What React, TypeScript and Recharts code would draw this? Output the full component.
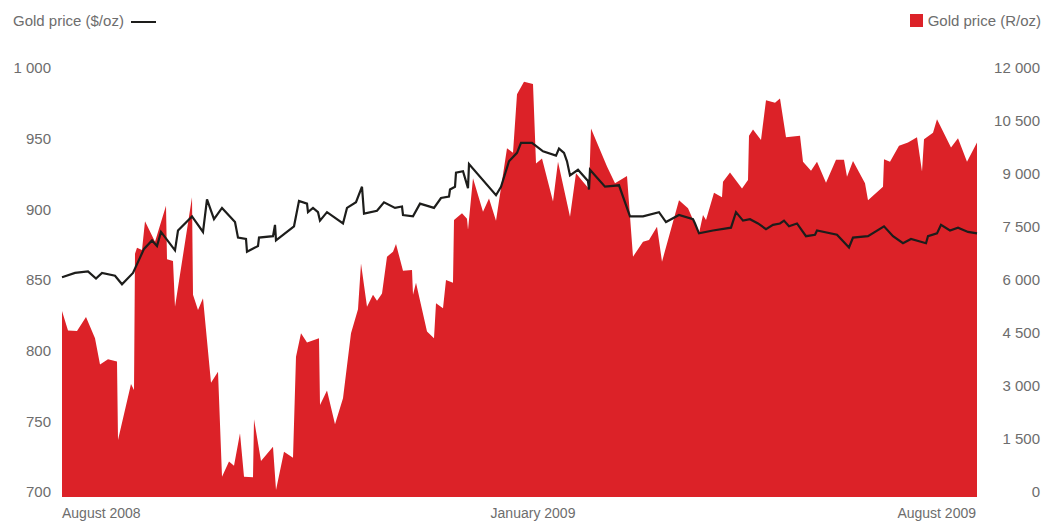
import React from "react";
import { ComposedChart, Area, Line, XAxis, YAxis } from "recharts";

// x positions are a time index across the period (0 = start of August 2008)
const zarT = [
  0, 6, 15, 24, 33, 38, 46, 55, 56, 69, 72, 73, 75, 80, 83, 93, 104, 105, 111, 113,
  130, 131, 136, 141, 149, 156, 160, 167, 172, 178, 182, 191, 192, 199, 211, 214, 222,
  231, 234, 239, 245, 257, 258, 265, 273, 281, 289, 296, 299, 305, 311, 315, 318, 320,
  325, 331, 334, 341, 350, 351, 354, 365, 372, 374, 381, 384, 391, 392, 400, 405, 406,
  411, 421, 427, 434, 445, 451, 455, 462, 471, 474, 480, 491, 496, 508, 514, 521, 527,
  529, 545, 553, 565, 571, 581, 587, 595, 600, 617, 626, 637, 641, 644, 652, 660, 661,
  668, 680, 686, 687, 691, 699, 704, 713, 718, 724, 738, 741, 749, 755, 764, 774, 782,
  785, 791, 803, 806, 821, 822, 828, 837, 846, 855, 860, 862, 871, 875, 889, 896, 905,
  915,
];
const zarPrice = [
  5120, 4570, 4560, 4950, 4350, 3610, 3760, 3690, 1470, 3060, 2890, 6740, 6910, 6850,
  7660, 7080, 8100, 6590, 6540, 5240, 8340, 5580, 5150, 5480, 3090, 3400, 430, 860, 740,
  1660, 430, 420, 2060, 880, 1280, 60, 1140, 970, 3830, 4490, 4230, 4350, 2460, 2870,
  1920, 2650, 4490, 5170, 6470, 5240, 5580, 5410, 5530, 5620, 6660, 6800, 7020, 6260,
  6280, 5580, 5920, 4540, 4350, 5340, 5200, 6000, 5920, 7700, 7890, 7730, 7420, 8880,
  7930, 8310, 7680, 9730, 9600, 11260, 11610, 11550, 9300, 9440, 8220, 9350, 7790,
  9020, 8780, 8580, 10290, 9210, 8740, 8940, 6660, 7080, 7130, 7510, 6520, 8260, 8030,
  7320, 7840, 7700, 8470, 8340, 8780, 9040, 8590, 8830, 10080, 10260, 9960, 11090,
  11020, 11140, 10040, 10080, 9350, 9090, 9350, 8750, 9400, 9400, 8920, 9370, 8740,
  8260, 8640, 9420, 9350, 9800, 9890, 10040, 9070, 9980, 10170, 10550, 9750, 10010,
  9350, 9890,
];

const usdT = [
  0, 13, 26, 34, 40, 53, 60, 71, 82, 90, 95, 99, 113, 116, 130, 141, 145, 152, 160,
  173, 176, 184, 185, 196, 197, 211, 213, 214, 232, 237, 245, 246, 251, 256, 258, 265,
  281, 285, 294, 300, 302, 315, 322, 333, 340, 341, 351, 358, 372, 379, 387, 388, 393,
  394, 401, 406, 407, 434, 439, 447, 455, 459, 470, 481, 494, 497, 502, 505, 508, 516,
  526, 527, 528, 543, 557, 568, 581, 597, 604, 617, 631, 633, 637, 651, 669, 674, 681,
  688, 696, 704, 711, 718, 722, 727, 735, 744, 753, 755, 775, 787, 791, 806, 822, 831,
  841, 849, 864, 866, 875, 879, 888, 896, 906, 915,
];
const usdPrice = [
  852, 855, 856, 851, 855, 853, 847, 855, 872, 878, 874, 884, 871, 885, 895, 884, 907,
  893, 901, 891, 880, 879, 870, 874, 880, 881, 889, 878, 888, 906, 904, 898, 901, 898,
  892, 898, 890, 901, 905, 916, 897, 899, 905, 901, 902, 896, 895, 904, 901, 908, 909,
  914, 916, 926, 927, 915, 932, 910, 916, 934, 940, 947, 947, 941, 938, 943, 940, 934,
  924, 928, 920, 914, 928, 916, 917, 895, 895, 898, 891, 896, 893, 890, 883, 885, 887,
  898, 892, 893, 890, 886, 889, 890, 892, 888, 890, 881, 882, 885, 882, 873, 880, 881,
  888, 881, 876, 879, 876, 881, 883, 889, 885, 887, 884, 883,
];

const xTicks = [0, 471, 914];
const xTickLabels = ["August 2008", "January 2009", "August 2009"];
const usdTicks = [700, 750, 800, 850, 900, 950, 1000];
const zarTicks = [0, 1500, 3000, 4500, 6000, 7500, 9000, 10500, 12000];

const RED = "#dc2228";
const LINE = "#1d1d1b";
const GREY = "#6d6d6d";
const FONT = "'Liberation Sans', Arial, sans-serif";

type Row = { t: number; zar?: number; usd?: number };
const rows: Row[] = [
  ...zarT.map((t, i) => ({ t, zar: zarPrice[i] })),
  ...usdT.map((t, i) => ({ t, usd: usdPrice[i] })),
].sort((a, b) => a.t - b.t);

const fmt = (v: number) => String(v).replace(/\B(?=(\d{3})+(?!\d))/g, " ");

const XTick = (props: any) => {
  const { x, y, payload } = props;
  const i = xTicks.indexOf(payload.value);
  const anchor = i === 0 ? "start" : i === xTicks.length - 1 ? "end" : "middle";
  return (
    <text x={x} y={y + 21} textAnchor={anchor} fill={GREY} fontSize={14} fontFamily={FONT}>
      {xTickLabels[i]}
    </text>
  );
};

const RightTick = (props: any) => {
  const { x, y, payload } = props;
  return (
    <text x={x + 63} y={y} dy="0.355em" textAnchor="end" fill={GREY} fontSize={15} fontFamily={FONT}>
      {fmt(payload.value)}
    </text>
  );
};

export default function App() {
  return (
    <div style={{ position: "absolute", left: 0, top: 0, width: 1043, height: 521, background: "#fff" }}>
      <div style={{ position: "absolute", left: 13, top: 12, lineHeight: "18px", whiteSpace: "nowrap", fontFamily: FONT, fontSize: 15, color: GREY }}>
        Gold price ($/oz)
        <span style={{ display: "inline-block", width: 25, height: 2, background: LINE, marginLeft: 7, verticalAlign: "middle" }} />
      </div>
      <div style={{ position: "absolute", right: 2, top: 12, lineHeight: "18px", whiteSpace: "nowrap", fontFamily: FONT, fontSize: 15, color: GREY }}>
        <span style={{ display: "inline-block", width: 13, height: 13, background: RED, marginRight: 5, verticalAlign: "-1px" }} />
        Gold price (R/oz)
      </div>
      <ComposedChart width={1043} height={521} data={rows} margin={{ top: 68, right: 0, bottom: 0, left: 0 }}>
        <XAxis
          dataKey="t"
          type="number"
          domain={[0, 915]}
          ticks={xTicks}
          height={24}
          axisLine={false}
          tickLine={false}
          tickSize={0}
          tickMargin={0}
          tick={<XTick />}
          interval={0}
        />
        <YAxis
          yAxisId="usd"
          orientation="left"
          type="number"
          domain={[696.46, 1000]}
          ticks={usdTicks}
          width={62}
          axisLine={false}
          tickLine={false}
          tickSize={0}
          tickMargin={11}
          interval={0}
          tickFormatter={fmt}
          tick={{ fill: GREY, fontSize: 15, fontFamily: FONT }}
        />
        <YAxis
          yAxisId="zar"
          orientation="right"
          type="number"
          domain={[-141.5, 12000]}
          ticks={zarTicks}
          width={66}
          axisLine={false}
          tickLine={false}
          tickSize={0}
          tickMargin={0}
          interval={0}
          tick={<RightTick />}
        />
        <Area
          yAxisId="zar"
          dataKey="zar"
          type="linear"
          baseValue="dataMin"
          fill={RED}
          fillOpacity={1}
          stroke="none"
          connectNulls
          isAnimationActive={false}
        />
        <Line
          yAxisId="usd"
          dataKey="usd"
          type="linear"
          stroke={LINE}
          strokeWidth={2.2}
          dot={false}
          activeDot={false}
          connectNulls
          isAnimationActive={false}
        />
      </ComposedChart>
    </div>
  );
}
